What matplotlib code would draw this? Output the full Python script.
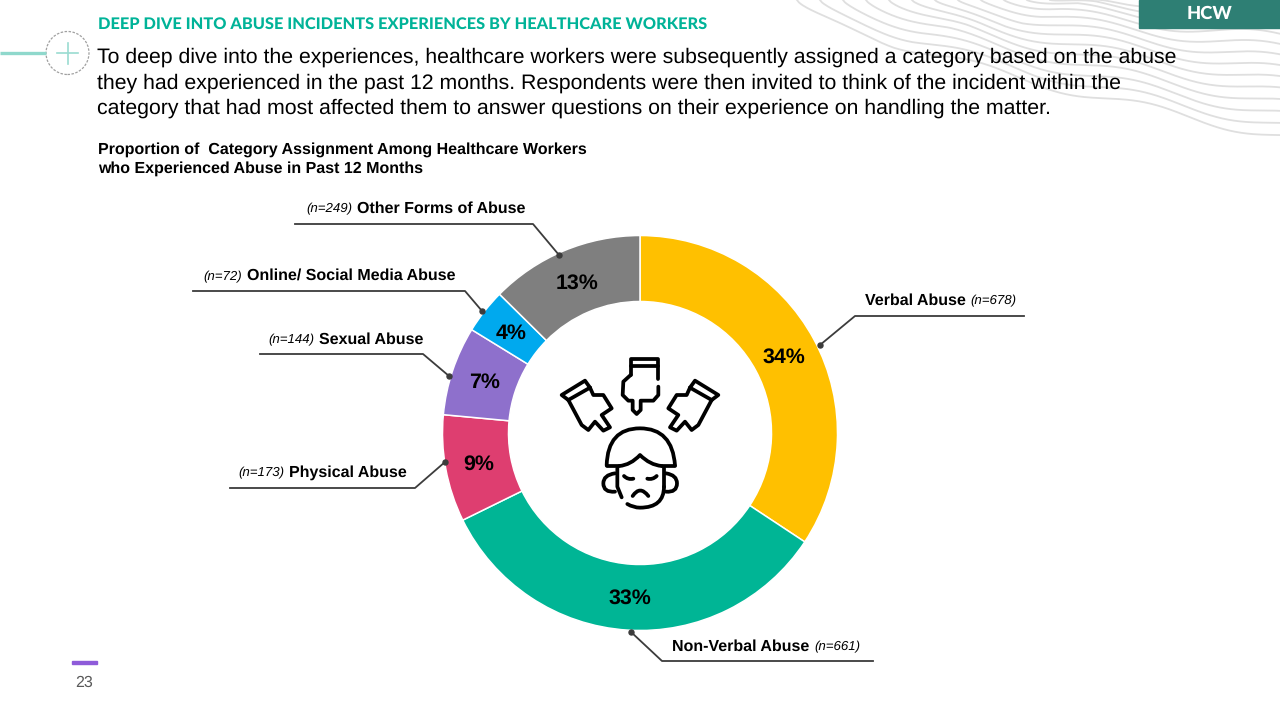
import numpy as np
import matplotlib
matplotlib.use("Agg")
import matplotlib.pyplot as plt
from matplotlib.path import Path
from matplotlib.patches import Circle, PathPatch, Rectangle

plt.rcParams['text.hinting'] = 'none'

categories = ['Verbal Abuse', 'Non-Verbal Abuse', 'Physical Abuse', 'Sexual Abuse',
              'Online/ Social Media Abuse', 'Other Forms of Abuse']
counts = [678, 661, 173, 144, 72, 249]
colors = ['#FFC000', '#00B595', '#DE3E70', '#8E70CC', '#00A9EE', '#7F7F7F']

heading = 'DEEP DIVE INTO ABUSE INCIDENTS EXPERIENCES BY HEALTHCARE WORKERS'
intro = ['To deep dive into the experiences, healthcare workers were subsequently assigned a category based on the abuse',
         'they had experienced in the past 12 months. Respondents were then invited to think of the incident within the',
         'category that had most affected them to answer questions on their experience on handling the matter.']
subtitle = ['Proportion of  Category Assignment Among Healthcare Workers',
            'who Experienced Abuse in Past 12 Months']

# leader lines and label anchors, in picture pixels
leaders = [[(820, 345), (855, 316), (1024, 316)],
           [(631, 632), (662, 661), (873, 661)],
           [(445, 462), (415, 488), (230, 488)],
           [(449, 376), (423, 354), (260, 354)],
           [(482, 311), (465, 291), (193, 291)],
           [(559, 255), (533, 224), (295, 224)]]
label_x = [865, 672, 289, 319, 247, 357]
label_y = [304.5, 650.5, 476.5, 343.5, 280, 212.5]

centre_hand = [[(272, 105), (272, 58), (355, 58), (355, 105), (355, 118)],
               [(272, 78), (355, 78)],
               [(272, 105), (250, 125), (248, 165), (265, 182), (278, 182), (278, 210), (290, 222),
                (302, 210), (302, 182), (340, 182), (355, 165), (355, 140)]]
left_hand = [[(85, 180), (65, 165), (135, 122), (150, 143)],
             [(85, 180), (150, 143)],
             [(85, 180), (125, 255), (145, 270), (165, 245), (190, 272), (210, 262), (185, 225),
              (215, 205), (190, 165), (160, 165), (150, 143)]]
face_lines = [[(200, 378), (238, 378)],
              [(365, 378), (405, 378)],
              [(232, 385), (232, 440), (245, 472)],
              [(372, 385), (372, 440)]]
face_curves = [[(200, 376), (203, 265), (300, 265), (397, 265), (405, 376)],
               [(238, 378), (272, 375), (300, 345), (330, 375), (365, 378)],
               [(372, 440), (372, 503), (300, 503), (280, 503), (262, 492)],
               [(225, 400), (190, 405), (190, 430), (190, 458), (225, 455)],
               [(378, 400), (411, 405), (411, 430), (411, 458), (378, 455)],
               [(252, 408), (264, 420), (280, 416)],
               [(350, 408), (338, 420), (322, 416)],
               [(278, 468), (300, 435), (325, 468)]]

HEIGHT = 720


def Y(y):
    return HEIGHT - y


def stroke(ax, pts, curved=False):
    pts = [(540 + x / 3, Y(340 + y / 3)) for x, y in pts]
    if curved:
        codes = [Path.MOVETO] + [Path.CURVE3] * (len(pts) - 1)
    else:
        codes = [Path.MOVETO] + [Path.LINETO] * (len(pts) - 1)
    ax.add_patch(PathPatch(Path(pts, codes), fill=False, edgecolor='black', lw=2.7,
                           capstyle='round', joinstyle='round', zorder=6))


fig = plt.figure(figsize=(12.8, 7.2), dpi=100)
ax = fig.add_axes([0, 0, 1, 1])
wedges, texts, autotexts = ax.pie(
    counts, colors=colors, startangle=90, counterclock=False, center=(640, Y(433)),
    radius=197.5, autopct='%.0f%%', pctdistance=0.83, frame=True,
    wedgeprops={'width': 66, 'edgecolor': 'white', 'linewidth': 1.1},
    textprops={'family': 'Liberation Sans', 'weight': 'bold', 'fontsize': 15.4, 'color': 'black'})
for t in autotexts:
    t.set_y(t.get_position()[1] - 1.5)
ax.set_xlim(0, 1280)
ax.set_ylim(0, HEIGHT)
ax.set_aspect('auto')
ax.axis('off')

# wavy background, top right
for k in range(13):
    x0 = 797 + 23 * k
    y_end = 136 - 11 * k
    xs = np.linspace(x0, 1280, 240)
    t = (xs - x0) / (1280 - x0)
    ys = y_end * t ** 0.72 + 5 * np.sin(2 * np.pi * xs / 170 + k * 0.25) * np.minimum(t * 5, 1)
    ax.plot(xs, Y(ys), color='#DFDFDF', lw=1.3, zorder=0)

# header furniture
ax.add_patch(Rectangle((1139, Y(28)), 141, 28, color='#2E7F74', zorder=3))
ax.text(1209.5, Y(14), 'HCW', color='white', family='Lato', weight='black', fontsize=13.2,
        ha='center', va='center', zorder=4)
ax.plot([0, 46], [Y(52.5), Y(52.5)], color='#8FD8CC', lw=2.4, solid_capstyle='butt')
ax.add_patch(Circle((67.5, Y(53)), 21.5, fill=False, edgecolor='#A0A0A0', lw=0.9, ls=(0, (2, 1.2))))
ax.plot([57, 78], [Y(53), Y(53)], color='#9ADCD1', lw=1.2)
ax.plot([67.5, 67.5], [Y(43), Y(64)], color='#9ADCD1', lw=1.2)

ax.text(98, Y(29), heading, color='#00B398', family='Lato', weight='black', fontsize=11.77,
        ha='left', va='baseline')
for i, line in enumerate(intro):
    ax.text(97, Y(63 + i * 25.3), line, color='black', family='Liberation Sans', fontsize=15.34,
            ha='left', va='baseline')
for i, line in enumerate(subtitle):
    ax.text(98, Y(153.5 + i * 19.5), line, color='black', family='Liberation Sans', weight='bold',
            fontsize=11.5, ha='left', va='baseline')

# leader lines and labels
for name, n, pts, lx, ly in zip(categories, counts, leaders, label_x, label_y):
    ax.plot([p[0] for p in pts], [Y(p[1]) for p in pts], color='#3C3C3C', lw=1.3, zorder=5)
    ax.plot(pts[0][0], Y(pts[0][1]), 'o', color='#3C3C3C', ms=3.6, zorder=5)
    t = ax.text(lx, Y(ly), name, color='black', family='Liberation Sans', weight='bold',
                fontsize=11.5, ha='left', va='baseline')
    note = '(n=%d)' % n
    if name in ('Verbal Abuse', 'Non-Verbal Abuse'):
        box = t.get_window_extent(fig.canvas.get_renderer())
        ax.text(box.x1 + 5, Y(ly), note, family='Liberation Sans', style='italic', fontsize=9.5,
                ha='left', va='baseline', color='black')
    else:
        ax.text(lx - 5, Y(ly), note, family='Liberation Sans', style='italic', fontsize=9.5,
                ha='right', va='baseline', color='black')

# centre icon
for part in centre_hand:
    stroke(ax, part)
for part in left_hand:
    stroke(ax, part)
    stroke(ax, [(600 - x, y) for x, y in part])
for part in face_lines:
    stroke(ax, part)
for part in face_curves:
    stroke(ax, part, curved=True)

# page number
ax.add_patch(Rectangle((72, Y(664)), 25, 3, color='#8E5BD9'))
ax.text(84.5, Y(683), '23', color='#595959', family='Liberation Sans', fontsize=11.5,
        ha='center', va='center')

fig.savefig('out.png', dpi=100)
